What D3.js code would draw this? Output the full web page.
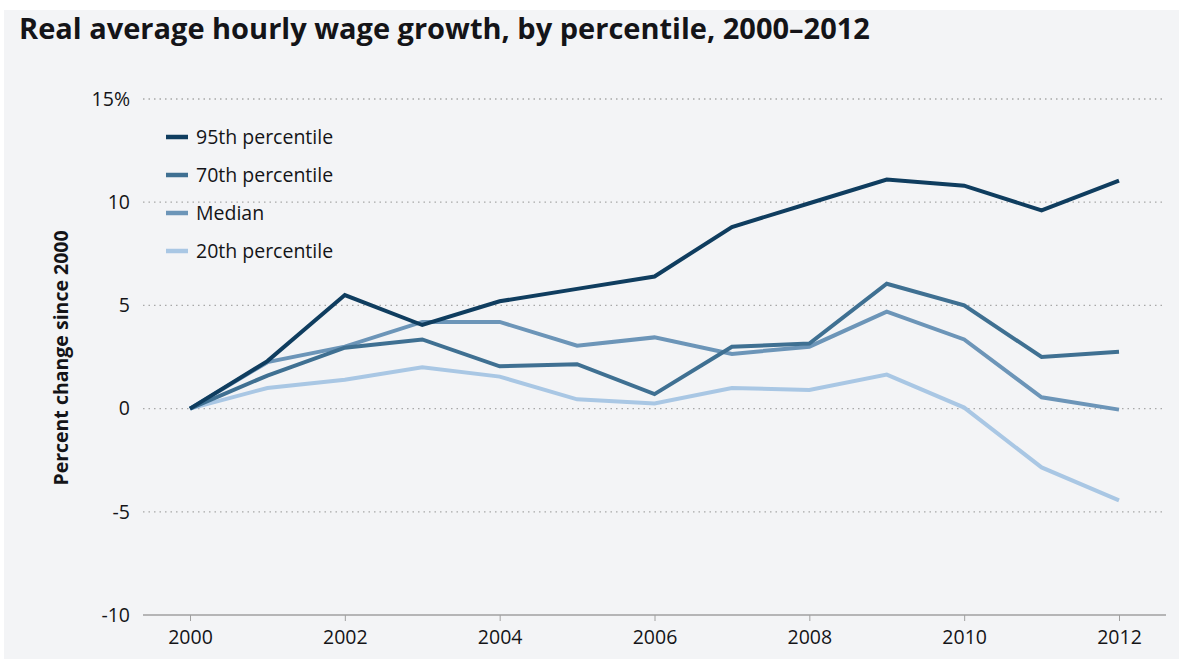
<!DOCTYPE html>
<html>
<head>
<meta charset="utf-8">
<script src="https://cdn.jsdelivr.net/npm/d3@7"></script>
<style>
  body { margin: 0; background: #ffffff; }
  text { font-family: "Open Sans", "Noto Sans", sans-serif; fill: #141418; }
</style>
</head>
<body>
<div id="chart"></div>
<script>
var svgWidth = 1179;
var svgHeight = 659;

// data
var years = [2000, 2001, 2002, 2003, 2004, 2005, 2006, 2007, 2008, 2009, 2010, 2011, 2012];
var p95 = [0, 2.3, 5.5, 4.05, 5.2, 5.8, 6.4, 8.8, 9.95, 11.1, 10.8, 9.6, 11.05];
var p70 = [0, 1.6, 2.95, 3.35, 2.05, 2.15, 0.7, 3.0, 3.15, 6.05, 5.0, 2.5, 2.75];
var median = [0, 2.25, 3.0, 4.2, 4.2, 3.05, 3.45, 2.65, 3.0, 4.7, 3.35, 0.55, -0.05];
var p20 = [0, 1.0, 1.4, 2.0, 1.55, 0.45, 0.25, 1.0, 0.9, 1.65, 0.05, -2.85, -4.45];

var seriesNames = ["95th percentile", "70th percentile", "Median", "20th percentile"];
var seriesColors = ["#0f3d5f", "#3f7092", "#6c95b8", "#a9c7e4"];
var yTicks = [-10, -5, 0, 5, 10, 15];
var xTicks = [2000, 2002, 2004, 2006, 2008, 2010, 2012];

var series = [p95, p70, median, p20];

var svg = d3.select("#chart")
  .append("svg")
  .attr("width", svgWidth)
  .attr("height", svgHeight);

// light grey panel behind everything
svg.append("rect")
  .attr("x", 4)
  .attr("y", 10)
  .attr("width", svgWidth - 4)
  .attr("height", svgHeight - 10)
  .attr("fill", "#f3f4f6");

svg.append("text")
  .attr("x", 19)
  .attr("y", 39)
  .attr("font-size", "29px")
  .attr("font-weight", "bold")
  .text("Real average hourly wage growth, by percentile, 2000\u20132012");

var xScale = d3.scaleLinear()
  .domain([2000, 2012])
  .range([190, 1119]);

var yScale = d3.scaleLinear()
  .domain([-10, 15])
  .range([615, 99]);

var plotLeft = 143;
var plotRight = 1166;

// dotted grid lines
svg.append("g")
  .selectAll("line")
  .data(yTicks.filter(d => d !== -10))
  .enter()
  .append("line")
  .attr("x1", plotLeft)
  .attr("x2", plotRight)
  .attr("y1", d => yScale(d))
  .attr("y2", d => yScale(d))
  .attr("stroke", "#a8a8a8")
  .attr("stroke-width", 1.3)
  .attr("stroke-dasharray", "1.5,4");

// y tick labels
svg.append("g")
  .selectAll("text")
  .data(yTicks)
  .enter()
  .append("text")
  .attr("x", 130)
  .attr("y", d => yScale(d))
  .attr("dy", "0.35em")
  .attr("text-anchor", "end")
  .attr("font-size", "19.5px")
  .text(d => d === 15 ? "15%" : d);

// bottom axis
var bottomAxis = d3.axisBottom(xScale)
  .tickValues(xTicks)
  .tickFormat(d3.format("d"))
  .tickSize(6)
  .tickPadding(9);

var xAxis = svg.append("g")
  .attr("transform", `translate(0, ${yScale(-10)})`)
  .call(bottomAxis);

xAxis.select(".domain").remove();
xAxis.insert("line", ":first-child")
  .attr("x1", plotLeft)
  .attr("x2", plotRight)
  .attr("stroke", "#a0a0a0")
  .attr("stroke-width", 1.5);
xAxis.selectAll(".tick line").attr("stroke", "#a0a0a0");
xAxis.selectAll(".tick text")
  .attr("font-size", "19.5px")
  .attr("font-family", "\"Open Sans\", \"Noto Sans\", sans-serif")
  .attr("fill", "#141418");

// y axis title
svg.append("text")
  .attr("transform", "translate(68, 358) rotate(-90)")
  .attr("text-anchor", "middle")
  .attr("font-size", "19.5px")
  .attr("font-weight", "bold")
  .text("Percent change since 2000");

// lines, lightest first so darker sit on top
var line = d3.line()
  .x((d, i) => xScale(years[i]))
  .y(d => yScale(d));

svg.append("g")
  .selectAll("path")
  .data(series.slice().reverse())
  .enter()
  .append("path")
  .attr("d", d => line(d))
  .attr("fill", "none")
  .attr("stroke", (d, i) => seriesColors[seriesColors.length - 1 - i])
  .attr("stroke-width", 4)
  .attr("stroke-linejoin", "miter");

// legend
var legend = svg.append("g")
  .attr("transform", "translate(166, 137)");

var items = legend.selectAll("g")
  .data(seriesNames)
  .enter()
  .append("g")
  .attr("transform", (d, i) => `translate(0, ${i * 38})`);

items.append("line")
  .attr("x1", 0)
  .attr("x2", 22)
  .attr("stroke", (d, i) => seriesColors[i])
  .attr("stroke-width", 4.5);

items.append("text")
  .attr("x", 30)
  .attr("dy", "0.35em")
  .attr("font-size", "19.5px")
  .text(d => d);
</script>
</body>
</html>
